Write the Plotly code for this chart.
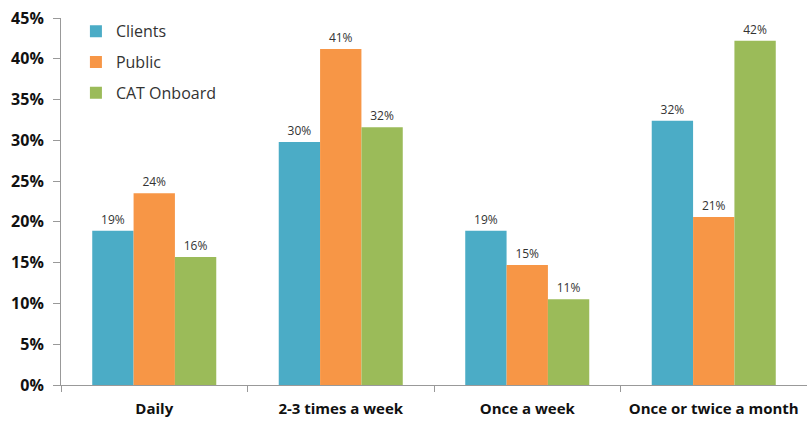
import plotly.graph_objects as go

categories = ["Daily", "2-3 times a week", "Once a week", "Once or twice a month"]
series_names = ["Clients", "Public", "CAT Onboard"]
clients = [18.9, 29.8, 18.9, 32.4]
public = [23.5, 41.2, 14.7, 20.6]
cat_onboard = [15.7, 31.6, 10.5, 42.2]
clients_labels = ["19%", "30%", "19%", "32%"]
public_labels = ["24%", "41%", "15%", "21%"]
cat_labels = ["16%", "32%", "11%", "42%"]
y_ticks = [0, 5, 10, 15, 20, 25, 30, 35, 40, 45]
colors = ["#4BACC6", "#F79646", "#9BBB59"]

fig = go.Figure()
for i, (name, vals, labs) in enumerate(zip(series_names, [clients, public, cat_onboard],
                                            [clients_labels, public_labels, cat_labels])):
    fig.add_trace(go.Bar(
        x=categories, y=vals, name=name, text=labs,
        textposition="outside", textfont=dict(size=12, color="#333333"),
        marker=dict(color=colors[i], line=dict(width=0)),
        legendgroup=name, cliponaxis=False,
    ))

fig.update_layout(
    width=807, height=421,
    margin=dict(l=61, r=0, t=18, b=36),
    paper_bgcolor="white", plot_bgcolor="white",
    barmode="group", bargap=0.335, bargroupgap=0,
    font=dict(family="Open Sans, Liberation Sans, sans-serif", color="#222222"),
    legend=dict(x=0.02, y=1.01, xanchor="left", yanchor="top",
                font=dict(size=16, color="#333333"), tracegroupgap=7,
                itemwidth=30, bgcolor="rgba(0,0,0,0)"),
    showlegend=True,
)
fig.update_xaxes(
    showline=True, linecolor="#999999", linewidth=1,
    ticks="outside", tickson="boundaries", ticklen=6, tickcolor="#999999",
    tickfont=dict(size=15, color="#111111", family="Open Sans, sans-serif", weight="bold"),
    ticklabelstandoff=10,
    showgrid=False,
)
fig.update_yaxes(
    range=[0, 45], tickvals=y_ticks, ticktext=[f"{v}%" for v in y_ticks],
    showline=True, linecolor="#999999", linewidth=1,
    ticks="outside", ticklen=7, tickcolor="#999999",
    tickfont=dict(size=16, color="#111111", family="Open Sans, sans-serif", weight="bold"),
    ticklabelstandoff=6,
    showgrid=False, zeroline=False,
)

fig.write_html("out.html", config={"displayModeBar": False},
               post_script="document.body.style.margin='0';document.body.style.overflow='hidden';")
